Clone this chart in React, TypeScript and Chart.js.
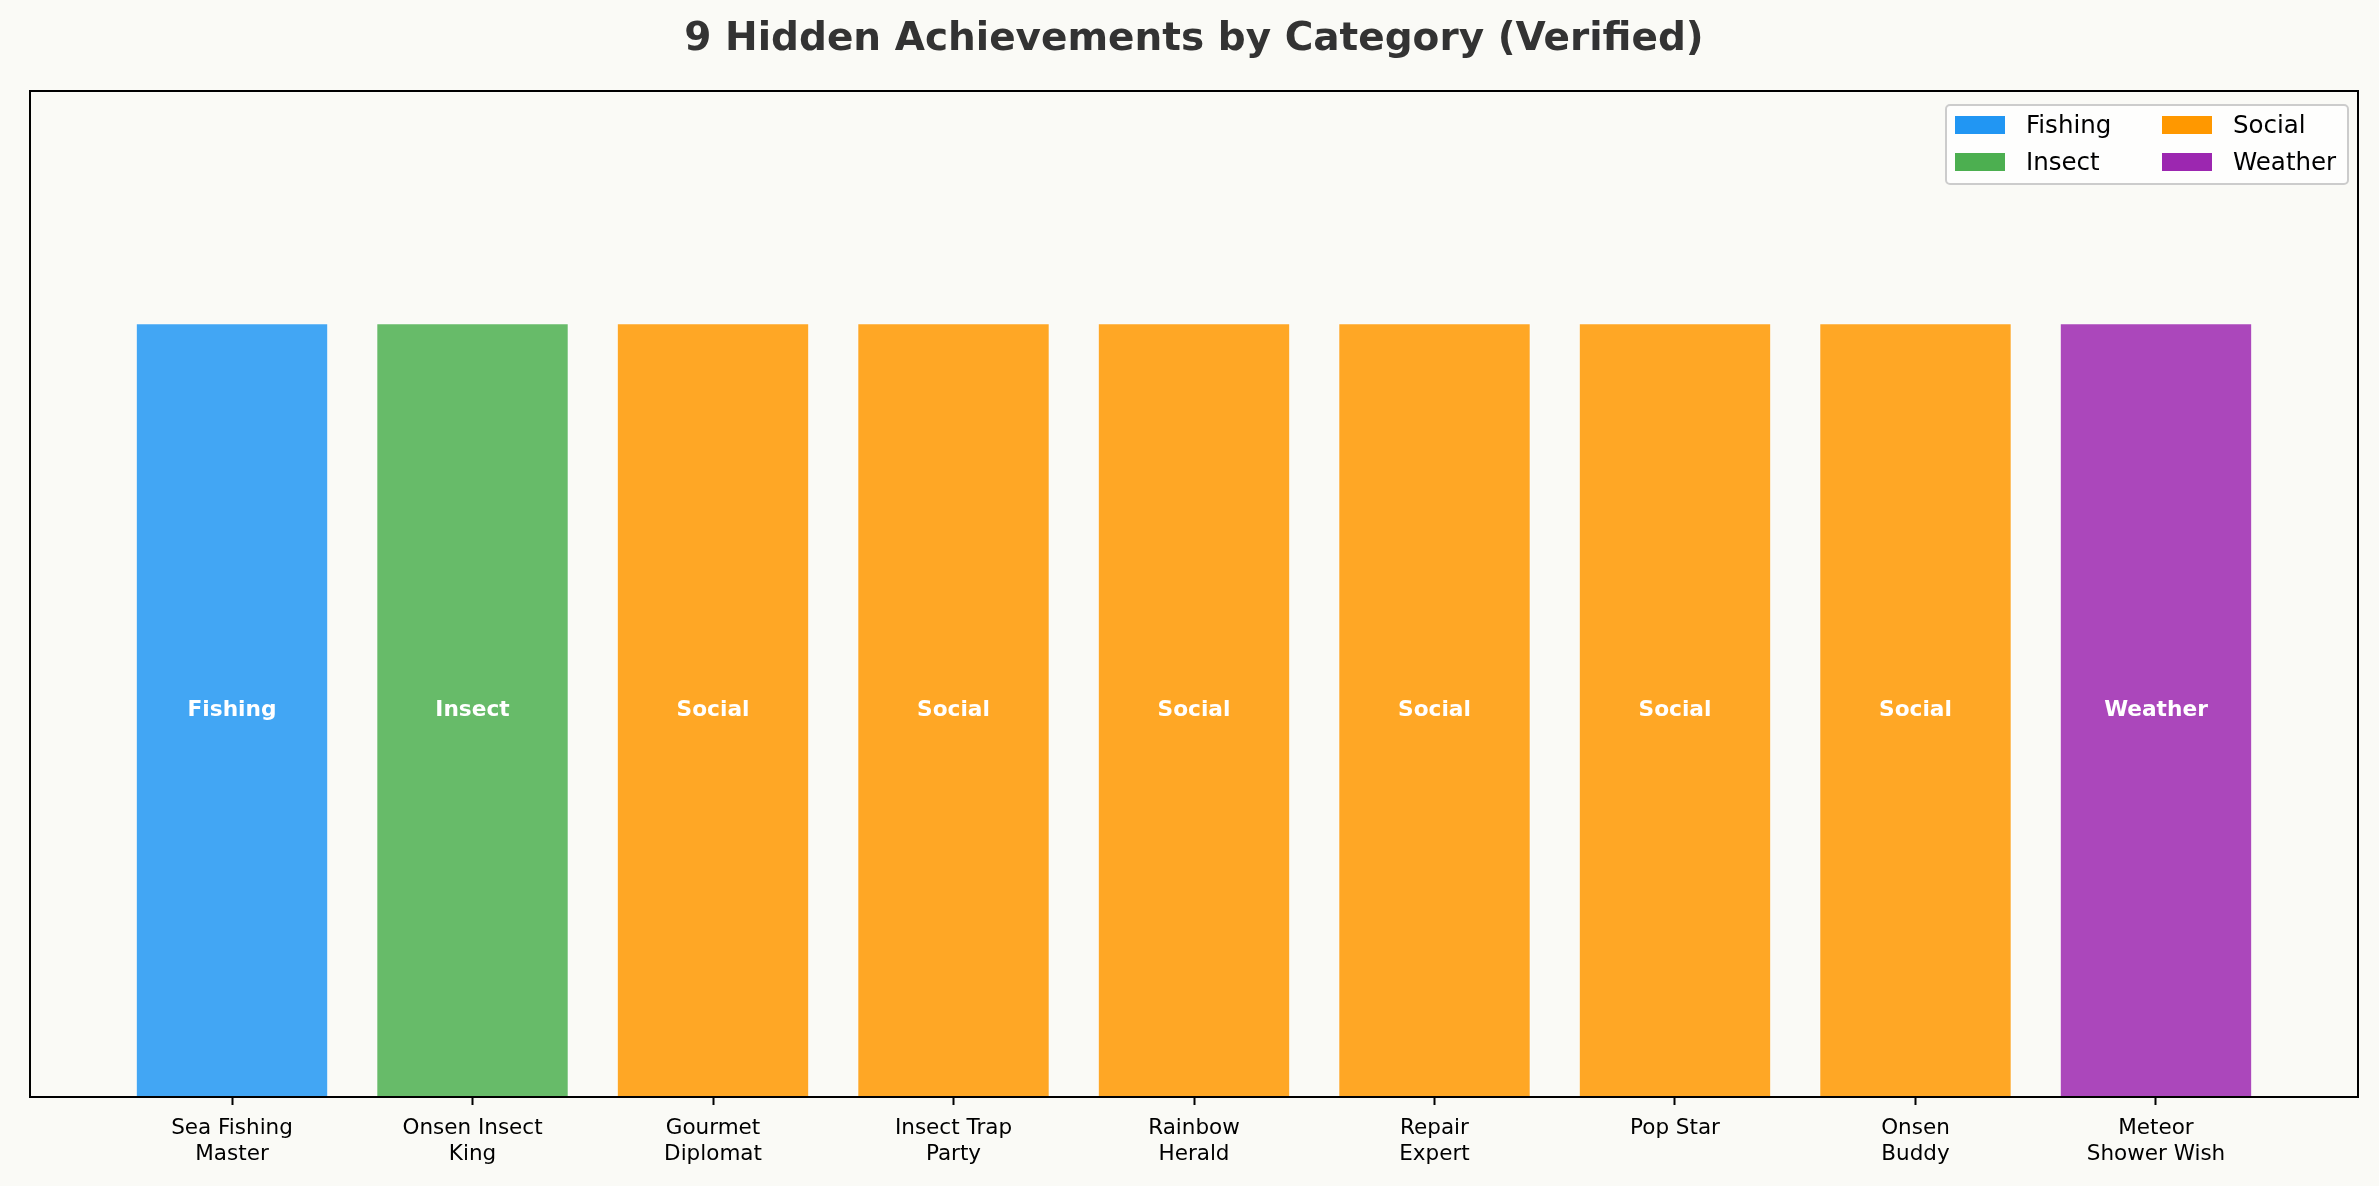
import React, { useEffect, useRef } from 'react';
import { Chart, registerables } from 'chart.js';

Chart.register(...registerables);

const achievements: string[][] = [
    ['Sea Fishing', 'Master'],
    ['Onsen Insect', 'King'],
    ['Gourmet', 'Diplomat'],
    ['Insect Trap', 'Party'],
    ['Rainbow', 'Herald'],
    ['Repair', 'Expert'],
    ['Pop Star'],
    ['Onsen', 'Buddy'],
    ['Meteor', 'Shower Wish'],
];
const achievementCategory: string[] = ['Fishing', 'Insect', 'Social', 'Social', 'Social', 'Social', 'Social', 'Social', 'Weather'];
const counts: number[] = [1, 1, 1, 1, 1, 1, 1, 1, 1];

const legendCategories: string[] = ['Fishing', 'Insect', 'Social', 'Weather'];
const legendColors: string[] = ['#2196F3', '#4CAF50', '#FF9800', '#9C27B0'];
const barFills: string[] = ['rgba(33,150,243,0.85)', 'rgba(76,175,80,0.85)', 'rgba(255,152,0,0.85)', 'rgba(156,39,176,0.85)'];

const FONT = "'DejaVu Sans', sans-serif";
const BG = '#fafaf6';

const App: React.FC = () => {
    const chartRef = useRef<HTMLCanvasElement>(null);
    const chartInstance = useRef<Chart | null>(null);

    useEffect(() => {
        document.body.style.margin = '0';
        if (!chartRef.current) return;
        const ctx = chartRef.current.getContext('2d');
        if (!ctx) return;

        const colorOf = (cat: string) => barFills[legendCategories.indexOf(cat)];

        // axes box around the plot area
        const frame = {
            id: 'frame',
            afterDatasetsDraw(chart: any) {
                const { ctx, chartArea } = chart;
                ctx.save();
                ctx.strokeStyle = '#000';
                ctx.lineWidth = 2;
                ctx.strokeRect(chartArea.left, chartArea.top, chartArea.right - chartArea.left, chartArea.bottom - chartArea.top);
                ctx.restore();
            },
        };

        // category name in the middle of each bar
        const barLabels = {
            id: 'barLabels',
            afterDatasetsDraw(chart: any) {
                const { ctx } = chart;
                const meta = chart.getDatasetMeta(0);
                ctx.save();
                ctx.fillStyle = '#ffffff';
                ctx.font = `bold 21.7px ${FONT}`;
                ctx.textAlign = 'center';
                ctx.textBaseline = 'middle';
                meta.data.forEach((el: any, i: number) => {
                    const { x, y, base } = el.getProps(['x', 'y', 'base'], true);
                    ctx.fillText(achievementCategory[i], x, (y + base) / 2);
                });
                ctx.restore();
            },
        };

        chartInstance.current = new Chart(ctx, {
            type: 'bar',
            data: {
                datasets: [{
                    data: counts.map((v, i) => ({ x: i, y: v })),
                    backgroundColor: achievementCategory.map(colorOf),
                    borderColor: 'rgba(255,255,255,0.5)',
                    borderWidth: 1,
                    barPercentage: 1,
                    categoryPercentage: 0.8,
                }],
            },
            options: {
                animation: false,
                responsive: true,
                maintainAspectRatio: false,
                devicePixelRatio: 1,
                layout: { padding: { left: 30, right: 21, top: 0, bottom: 0 } },
                plugins: {
                    legend: { display: false },
                    tooltip: { enabled: false },
                    title: {
                        display: true,
                        text: '9 Hidden Achievements by Category (Verified)',
                        color: '#333333',
                        font: { family: FONT, size: 39, weight: 'bold', lineHeight: 1.2 },
                        padding: { top: 16.5, bottom: 27.7 },
                    },
                },
                scales: {
                    x: {
                        type: 'linear',
                        min: -0.84,
                        max: counts.length - 1 + 0.84,
                        offset: false,
                        afterBuildTicks: (scale: any) => {
                            scale.ticks = achievements.map((_, i) => ({ value: i }));
                        },
                        afterFit: (scale: any) => {
                            scale.height = 89;
                        },
                        ticks: {
                            color: '#000',
                            font: { family: FONT, size: 21.5, lineHeight: 1.2 },
                            padding: 11,
                            maxRotation: 0,
                            autoSkip: false,
                            callback: (value: any) => achievements[Number(value)] ?? '',
                        },
                        grid: {
                            display: true,
                            drawOnChartArea: false,
                            drawTicks: true,
                            offset: false,
                            tickLength: 8,
                            tickWidth: 2,
                            tickColor: '#000',
                        },
                        border: { display: false },
                    },
                    y: {
                        display: false,
                        min: 0,
                        max: 1.3,
                    },
                },
            },
            plugins: [frame, barLabels],
        } as any);

        return () => {
            if (chartInstance.current) {
                chartInstance.current.destroy();
                chartInstance.current = null;
            }
        };
    }, []);

    return (
        <div style={{ position: 'relative', width: 2379, height: 1186, background: BG, fontFamily: FONT }}>
            <canvas ref={chartRef} />
            <div style={{
                position: 'absolute', left: 1945, top: 104, width: 404, height: 81, boxSizing: 'border-box',
                border: '2px solid #cccccc', borderRadius: 5, background: 'rgba(255,255,255,0.8)',
                padding: '0 8px 3px 8px',
                display: 'grid', gridAutoFlow: 'column', gridTemplateRows: '37px 37px', gridTemplateColumns: '207px auto',
            }}>
                {legendCategories.map((cat, i) => (
                    <div key={cat} style={{ display: 'flex', alignItems: 'center' }}>
                        <span style={{ display: 'inline-block', width: 50, height: 18, background: legendColors[i], marginRight: 21 }} />
                        <span style={{ fontSize: 24.5, color: '#000', lineHeight: '24px' }}>{cat}</span>
                    </div>
                ))}
            </div>
        </div>
    );
};

export default App;
